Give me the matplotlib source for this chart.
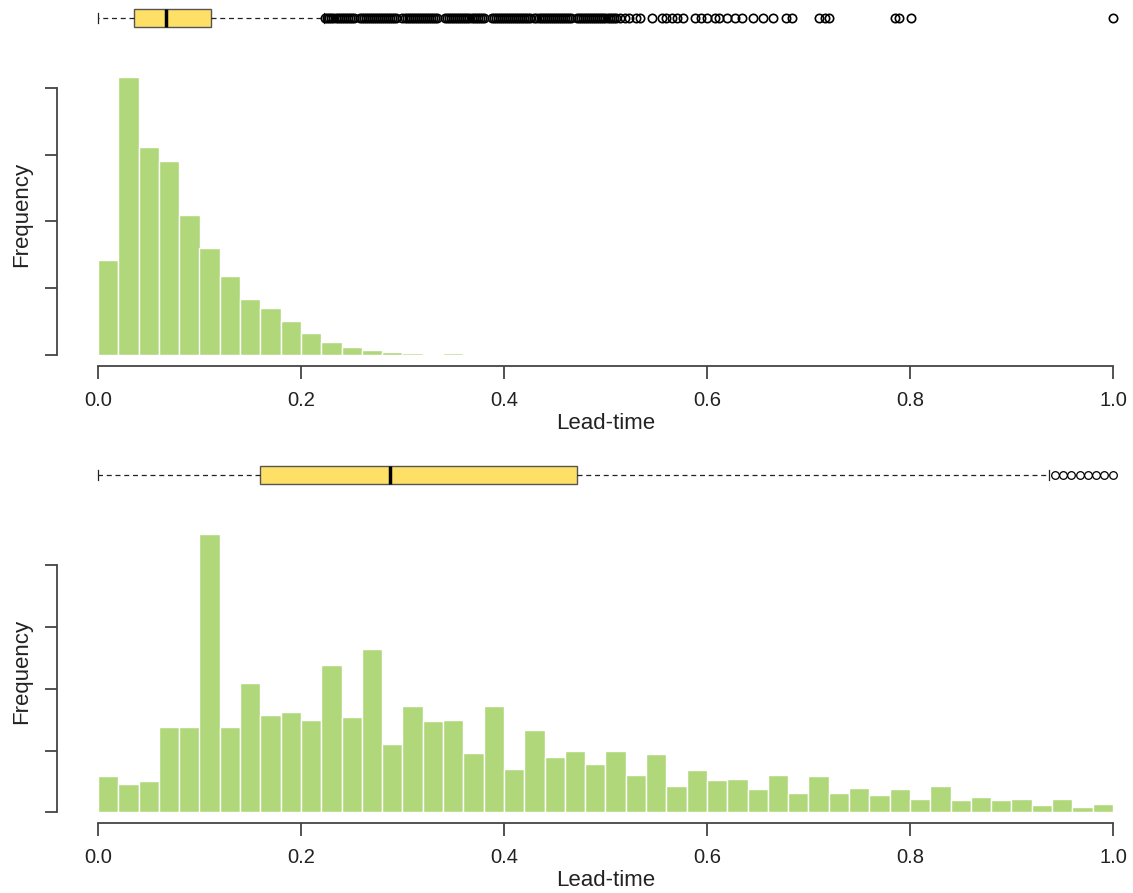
import numpy as np
import matplotlib
matplotlib.use("Agg")
import matplotlib.pyplot as plt

plt.rcParams['font.family'] = ['Liberation Sans', 'DejaVu Sans']

# histogram counts, bins of 0.02 starting at 0
counts_a = [1420, 4160, 3110, 2910, 2090, 1600, 1180, 840, 700, 510,
            330, 190, 115, 75, 40, 25, 0, 25]
counts_b = [29, 23, 25, 69, 69, 225, 69, 105, 79, 81,
            75, 119, 77, 132, 55, 86, 74, 75, 48, 86,
            35, 67, 45, 50, 39, 50, 30, 47, 21, 34,
            26, 27, 19, 30, 16, 29, 16, 20, 14, 19,
            11, 21, 10, 12, 10, 11, 6, 11, 4, 7]
bin_width = 0.02
yticks_a = [0, 1000, 2000, 3000, 4000]
yticks_b = [0, 50, 100, 150, 200]

# box plot summaries
box_a = dict(whislo=0.0, q1=0.035, med=0.067, q3=0.111, whishi=0.223)
box_b = dict(whislo=0.0, q1=0.160, med=0.288, q3=0.472, whishi=0.937)
fliers_a = [
    0.224, 0.226, 0.228, 0.230, 0.232, 0.234, 0.236, 0.238, 0.240, 0.242,
    0.244, 0.246, 0.248, 0.250, 0.252,
    0.258, 0.260, 0.262, 0.264, 0.266, 0.268, 0.270, 0.272, 0.274, 0.276,
    0.278, 0.280, 0.282, 0.284, 0.286, 0.288, 0.290, 0.292, 0.294,
    0.300, 0.302, 0.304, 0.306, 0.308, 0.310, 0.312, 0.314, 0.316, 0.318,
    0.320, 0.322, 0.324, 0.326, 0.328, 0.330, 0.332, 0.334,
    0.342, 0.344, 0.346, 0.348, 0.350, 0.352, 0.354, 0.356, 0.358, 0.360,
    0.362, 0.364, 0.366, 0.368, 0.370, 0.372, 0.374, 0.376, 0.378, 0.380,
    0.388, 0.390, 0.392, 0.394, 0.396, 0.398, 0.400, 0.402, 0.404, 0.406,
    0.408, 0.410, 0.412, 0.414, 0.416, 0.418, 0.420, 0.422, 0.424, 0.426,
    0.430, 0.432, 0.434, 0.436, 0.438, 0.440, 0.442, 0.444, 0.446, 0.448,
    0.450, 0.452, 0.454, 0.456, 0.458, 0.460, 0.462, 0.464, 0.466,
    0.472, 0.474, 0.476, 0.478, 0.480, 0.482, 0.484, 0.486, 0.488, 0.490,
    0.492, 0.494, 0.496, 0.498, 0.500, 0.502, 0.504, 0.506, 0.508, 0.510,
    0.514, 0.519, 0.523, 0.530, 0.534, 0.546, 0.556, 0.560, 0.566, 0.570,
    0.576, 0.588, 0.594, 0.600, 0.608, 0.612, 0.620, 0.628, 0.634, 0.645,
    0.655, 0.665, 0.678, 0.684, 0.710, 0.716, 0.720, 0.785, 0.789, 0.801,
    1.0]
fliers_b = [0.943, 0.951, 0.959, 0.967, 0.975, 0.983, 0.991, 1.0]

xticks = [0.0, 0.2, 0.4, 0.6, 0.8, 1.0]

W, H = 1133, 893
fig = plt.figure(figsize=(W / 100, H / 100), dpi=100)

BAR = '#b0d87a'
BOX = '#ffe066'
AX = '#444444'
TXT = '#222222'


def rect(left, top, right, bottom):
    return [left / W, 1 - bottom / H, (right - left) / W, (bottom - top) / H]


def boxplot(pos, stats, fliers, msize, mew):
    ax = fig.add_axes(rect(57.4, pos - 18, 1153.6, pos + 18))
    st = dict(stats, fliers=fliers)
    ax.bxp([st], vert=False, widths=0.5, capwidths=0.3, patch_artist=True,
           boxprops=dict(facecolor=BOX, edgecolor='#555555', linewidth=1.0),
           medianprops=dict(color='black', linewidth=2.5),
           whiskerprops=dict(color=TXT, linewidth=0.9, linestyle=(0, (4, 3))),
           capprops=dict(color=TXT, linewidth=0.9),
           flierprops=dict(marker='o', markersize=msize, markerfacecolor='none',
                           markeredgecolor='black', markeredgewidth=mew))
    ax.set_xlim(-0.04, 1.04)
    ax.set_ylim(0.5, 1.5)
    ax.axis('off')


def histogram(top, bottom, counts, yticks):
    ax = fig.add_axes(rect(57.4, top, 1153.6, bottom))
    edges = np.arange(len(counts)) * bin_width
    ax.bar(edges, counts, width=bin_width, align='edge', color=BAR,
           edgecolor='white', linewidth=1.0)
    m = max(counts)
    ax.set_xlim(-0.04, 1.04)
    ax.set_ylim(-0.04 * m, 1.04 * m)
    for s in ['top', 'right']:
        ax.spines[s].set_visible(False)
    ax.spines['left'].set_bounds(yticks[0], yticks[-1])
    ax.spines['bottom'].set_bounds(0, 1)
    for s in ['left', 'bottom']:
        ax.spines[s].set_color(AX)
        ax.spines[s].set_linewidth(1.3)
    ax.set_yticks(yticks)
    ax.set_yticklabels([])
    ax.set_xticks(xticks)
    ax.set_xticklabels([f'{t:.1f}' for t in xticks])
    ax.tick_params(axis='both', length=9, width=1.3, color=AX,
                   labelsize=14.5, labelcolor=TXT, pad=9)
    ax.set_xlabel('Lead-time', fontsize=16, color=TXT, labelpad=2)
    # y label placed in figure pixels so it stays inside the canvas
    ymid = (top + bottom) / 2 - 2
    fig.text(22 / W, 1 - ymid / H, 'Frequency', rotation=90, fontsize=16,
             color=TXT, ha='center', va='center')


boxplot(18, box_a, fliers_a, 6, 1.2)
histogram(66.2, 366.1, counts_a, yticks_a)
boxplot(475, box_b, fliers_b, 5.5, 0.9)
histogram(523.2, 823.4, counts_b, yticks_b)

fig.savefig('out.png', dpi=100)
